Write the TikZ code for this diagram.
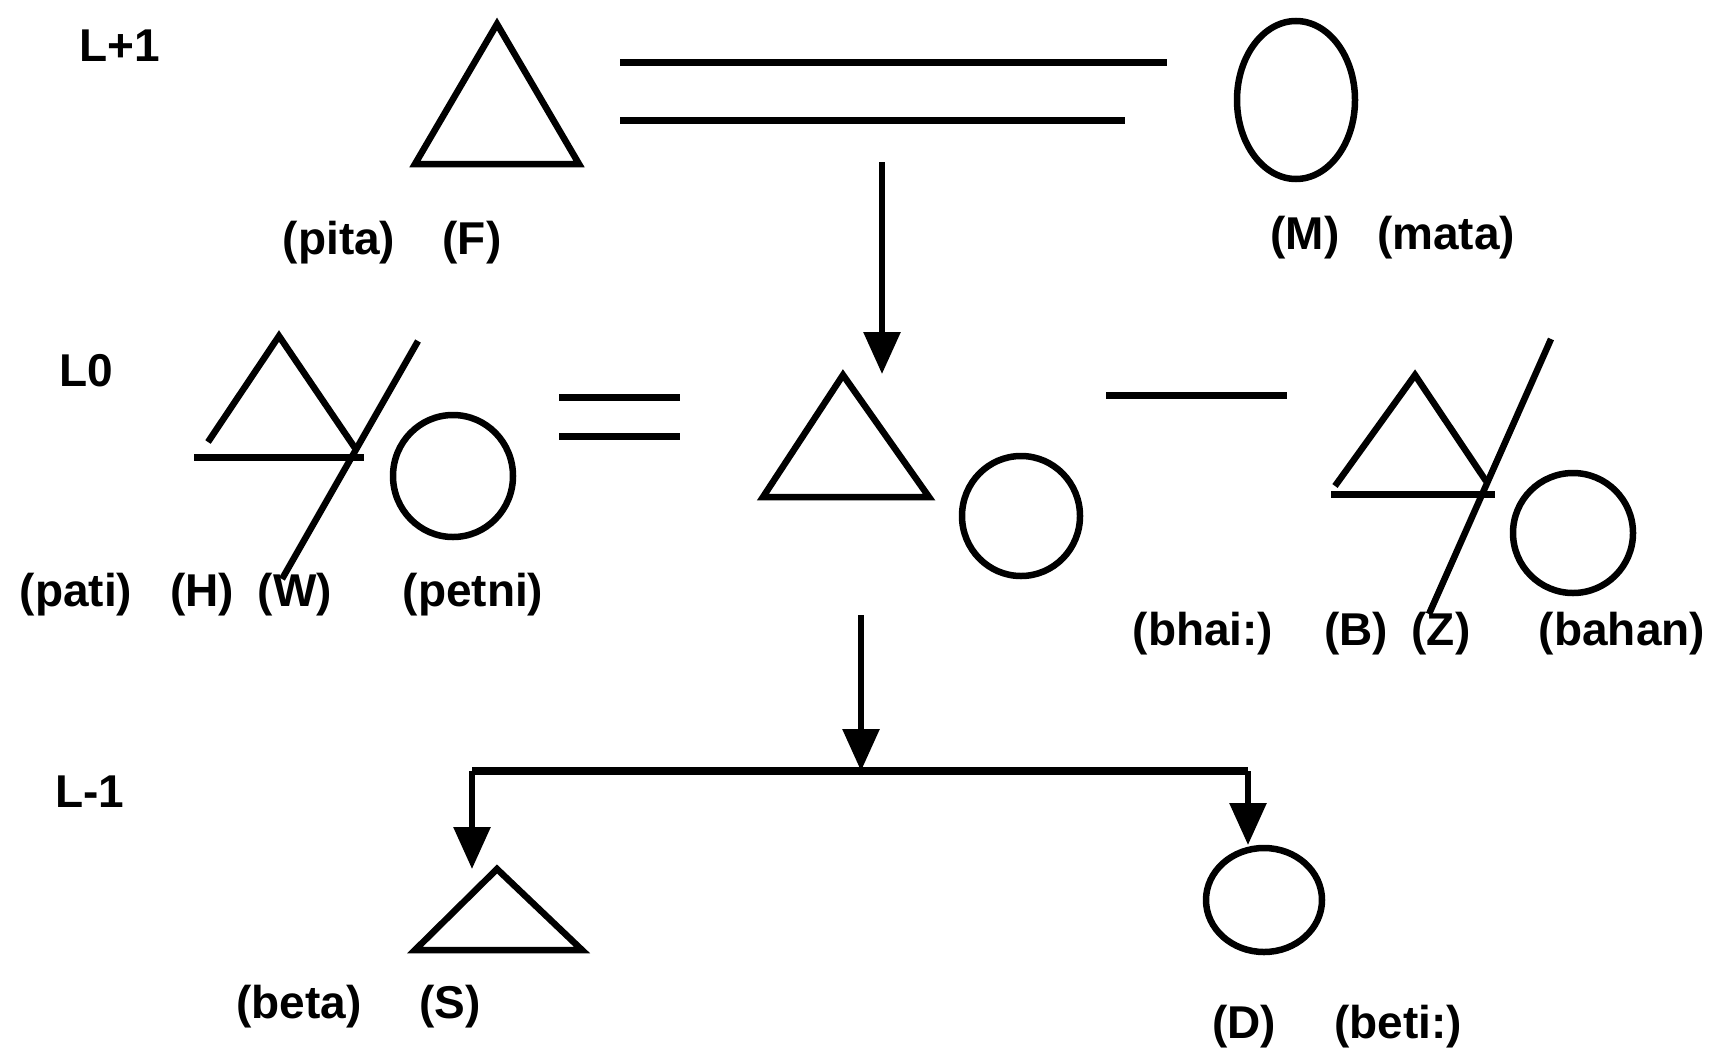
\documentclass[tikz,border=0pt]{standalone}
\usepackage{fontspec}
\setmainfont{Liberation Sans}
\usetikzlibrary{arrows.meta,shapes.geometric}
\begin{document}
\begin{tikzpicture}[x=1pt,y=-1pt,
  lbl/.style={font=\fontsize{46}{50}\selectfont\bfseries, inner sep=0pt},
  ln/.style={line width=7pt},
  sym/.style={line width=6.5pt, line join=miter},
  fem/.style={ellipse, draw, line width=6.5pt, inner sep=0pt},
  arr/.style={line width=6pt, -{Triangle[length=42pt,width=36pt]}}]
\useasboundingbox[fill=white] (0,0) rectangle (1713,1063);

% level labels
\node[lbl] (lp1) at (120,46) {L+1};
\node[lbl] (l0) at (86,371) {L0};
\node[lbl] (lm1) at (90,792) {L-1};

% L+1 : father and mother
\draw[sym] (415,164) -- (497,24) -- (579,164) -- cycle;
\node[fem, minimum width=118pt, minimum height=158pt] (M) at (1296,100) {};
\node[lbl] (tpita) at (339,243) {(pita)};
\node[lbl] (tF) at (472,243) {(F)};
\node[lbl] (tM) at (1305,238) {(M)};
\node[lbl] (tmata) at (1446,238) {(mata)};
\coordinate (fm1a) at (620,62);  \coordinate (fm1b) at (1167,62);
\coordinate (fm2a) at (620,120); \coordinate (fm2b) at (1125,120);
\draw[ln] (fm1a) -- (fm1b);
\draw[ln] (fm2a) -- (fm2b);
\coordinate (d1s) at (882,162); \coordinate (d1e) at (882,374);
\draw[arr] (d1s) -- (d1e);

% L0 : husband / wife (divorced)
\draw[sym] (208,442) -- (279,336) -- (355,448);
\draw[ln] (194,457) -- (364,457);
\draw[sym] (418,341) -- (282,579);
\node[fem, minimum width=120pt, minimum height=122pt] (W) at (453,476) {};
\node[lbl] (tpati) at (76,595) {(pati)};
\node[lbl] (tH) at (202,595) {(H)};
\node[lbl] (tW) at (295,595) {(W)};
\node[lbl] (tpetni) at (473,595) {(petni)};
\coordinate (hw1a) at (559,397); \coordinate (hw1b) at (680,397);
\coordinate (hw2a) at (559,436); \coordinate (hw2b) at (680,436);
\draw[ln] (hw1a) -- (hw1b);
\draw[ln] (hw2a) -- (hw2b);

% ego
\draw[sym] (763,497) -- (843,375) -- (929,497) -- cycle;
\node[fem, minimum width=118pt, minimum height=120pt] (ego) at (1021,516) {};
\coordinate (eb1) at (1106,395); \coordinate (eb2) at (1287,395);
\draw[ln] (eb1) -- (eb2);

% brother / sister
\draw[sym] (1335,486) -- (1415,375) -- (1486,481);
\draw[ln] (1331,494) -- (1495,494);
\draw[sym] (1551,339) -- (1429,614);
\node[fem, minimum width=120pt, minimum height=120pt] (Z) at (1573,533) {};
\node[lbl] (tbhai) at (1203,634) {(bhai:)};
\node[lbl] (tB) at (1356,634) {(B)};
\node[lbl] (tZ) at (1441,634) {(Z)};
\node[lbl] (tbahan) at (1622,634) {(bahan)};

% descent to L-1
\coordinate (d2s) at (861,615); \coordinate (d2e) at (861,771);
\coordinate (barL) at (472,771); \coordinate (barR) at (1248,771);
\coordinate (sS) at (472,869); \coordinate (sD) at (1248,845);
\draw[arr] (d2s) -- (d2e);
\draw[ln, line width=8pt] (barL) -- (barR);
\draw[arr] (barL) -- (sS);
\draw[arr] (barR) -- (sD);

% L-1 : son and daughter
\draw[sym] (415,950) -- (497,869) -- (582,950) -- cycle;
\node[fem, minimum width=116pt, minimum height=104pt] (D) at (1264,900) {};
\node[lbl] (tbeta) at (299,1007) {(beta)};
\node[lbl] (tS) at (450,1007) {(S)};
\node[lbl] (tD) at (1244,1027) {(D)};
\node[lbl] (tbeti) at (1398,1027) {(beti:)};
\end{tikzpicture}
\end{document}
